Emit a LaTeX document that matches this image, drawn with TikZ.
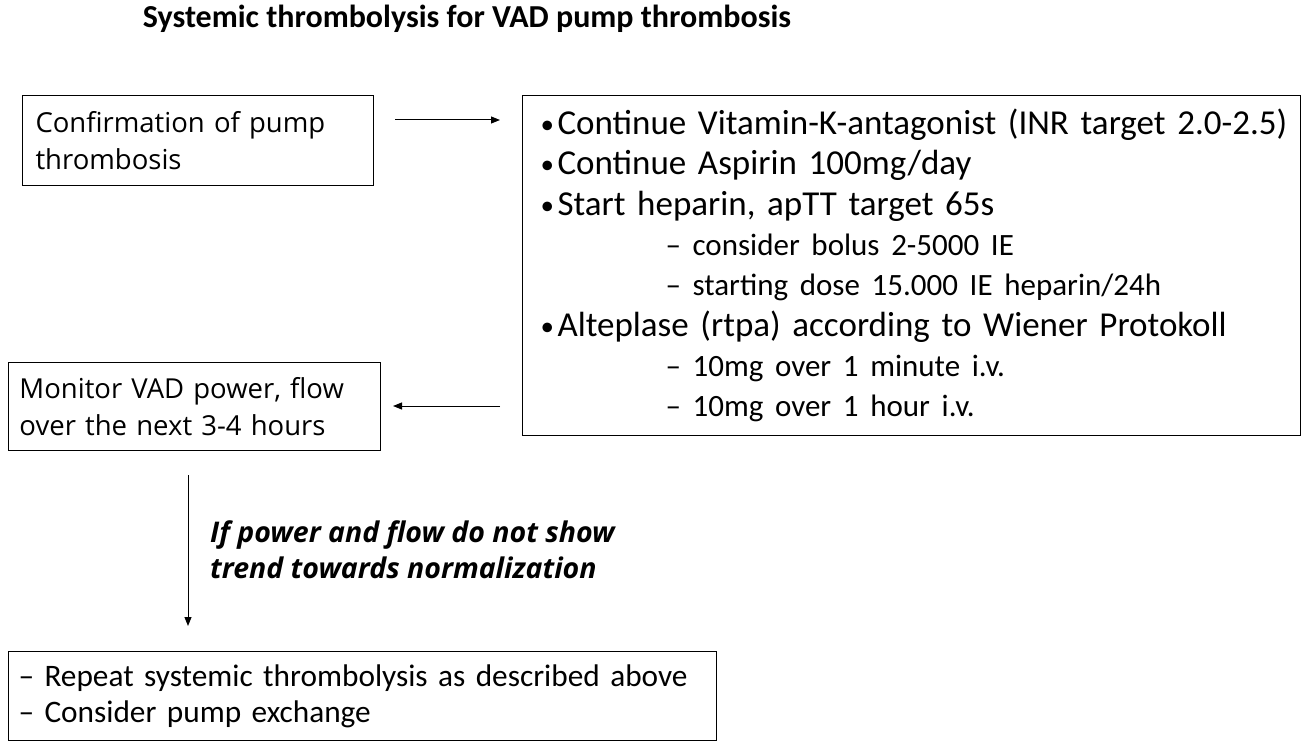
\documentclass[tikz,border=0pt]{standalone}
\usepackage{fontspec}
\setmainfont{Carlito}
\newfontfamily\osans{Open Sans}
\usetikzlibrary{arrows.meta}
\newcommand\bul{\hspace*{18pt}\makebox[17pt][l]{\raisebox{1pt}{\fontsize{27}{0}\selectfont\textbullet}}}
\newcommand\subl[1]{\hspace*{143pt}{\fontsize{31}{40.3}\selectfont --\ #1}}
\begin{document}
\begin{tikzpicture}[x=1pt,y=-1pt,
  box/.style={draw, line width=1pt, anchor=north west, align=left, inner xsep=0pt, inner ysep=0pt},
  conn/.style={line width=1pt, -{Triangle[length=9pt,width=7pt]}}]
\useasboundingbox (0,0) rectangle (1308,746);
\node[font=\bfseries\fontsize{32}{36}\selectfont, anchor=base, inner sep=0pt] (title) at (467,28) {Systemic thrombolysis for VAD pump thrombosis};
% box 1
\node[box, minimum width=351pt, minimum height=90pt, text width=325pt, inner xsep=13pt, font=\osans\fontsize{27.5}{37}\selectfont] (conf) at (22,95) {Confirmation of pump\\thrombosis};
% box 2
\node[box, minimum width=778pt, minimum height=340pt, text width=778pt, font=\fontsize{35}{40.3}\selectfont] (plan) at (522,95) {%
\bul Continue Vitamin-K-antagonist (INR target 2.0-2.5)\\
\bul Continue Aspirin 100mg/day\\
\bul Start heparin, apTT target 65s\\
\subl{consider bolus 2-5000 IE}\\
\subl{starting dose 15.000 IE heparin/24h}\\
\bul Alteplase (rtpa) according to Wiener Protokoll\\
\subl{10mg over 1 minute i.v.}\\
\subl{10mg over 1 hour i.v.}};
% box 3
\node[box, minimum width=365pt, minimum height=88pt, text width=350pt, inner xsep=11pt, font=\osans\fontsize{27.5}{37}\selectfont] (mon) at (8,362) {Monitor VAD power, flow\\over the next 3-4 hours};
% box 4
\node[box, minimum width=698pt, minimum height=89pt, text width=688pt, inner xsep=10pt, font=\fontsize{31.3}{36}\selectfont] (rep) at (8,651) {-- Repeat systemic thrombolysis as described above\\-- Consider pump exchange};
% connectors
\coordinate (a1s) at (395,120);
\coordinate (a1e) at (500,120);
\coordinate (a2s) at (500,406);
\coordinate (a2e) at (393,406);
\coordinate (a3s) at (188,475);
\coordinate (a3e) at (188,626);
\draw[conn] (a1s) -- (a1e);
\draw[conn] (a2s) -- (a2e);
\draw[conn] (a3s) -- (a3e);
\node[anchor=base west, align=left, inner sep=0pt, font=\osans\bfseries\itshape\fontsize{28.5}{36}\selectfont] (cond) at (210,578) {If power and flow do not show\\trend towards normalization};
\end{tikzpicture}
\end{document}
